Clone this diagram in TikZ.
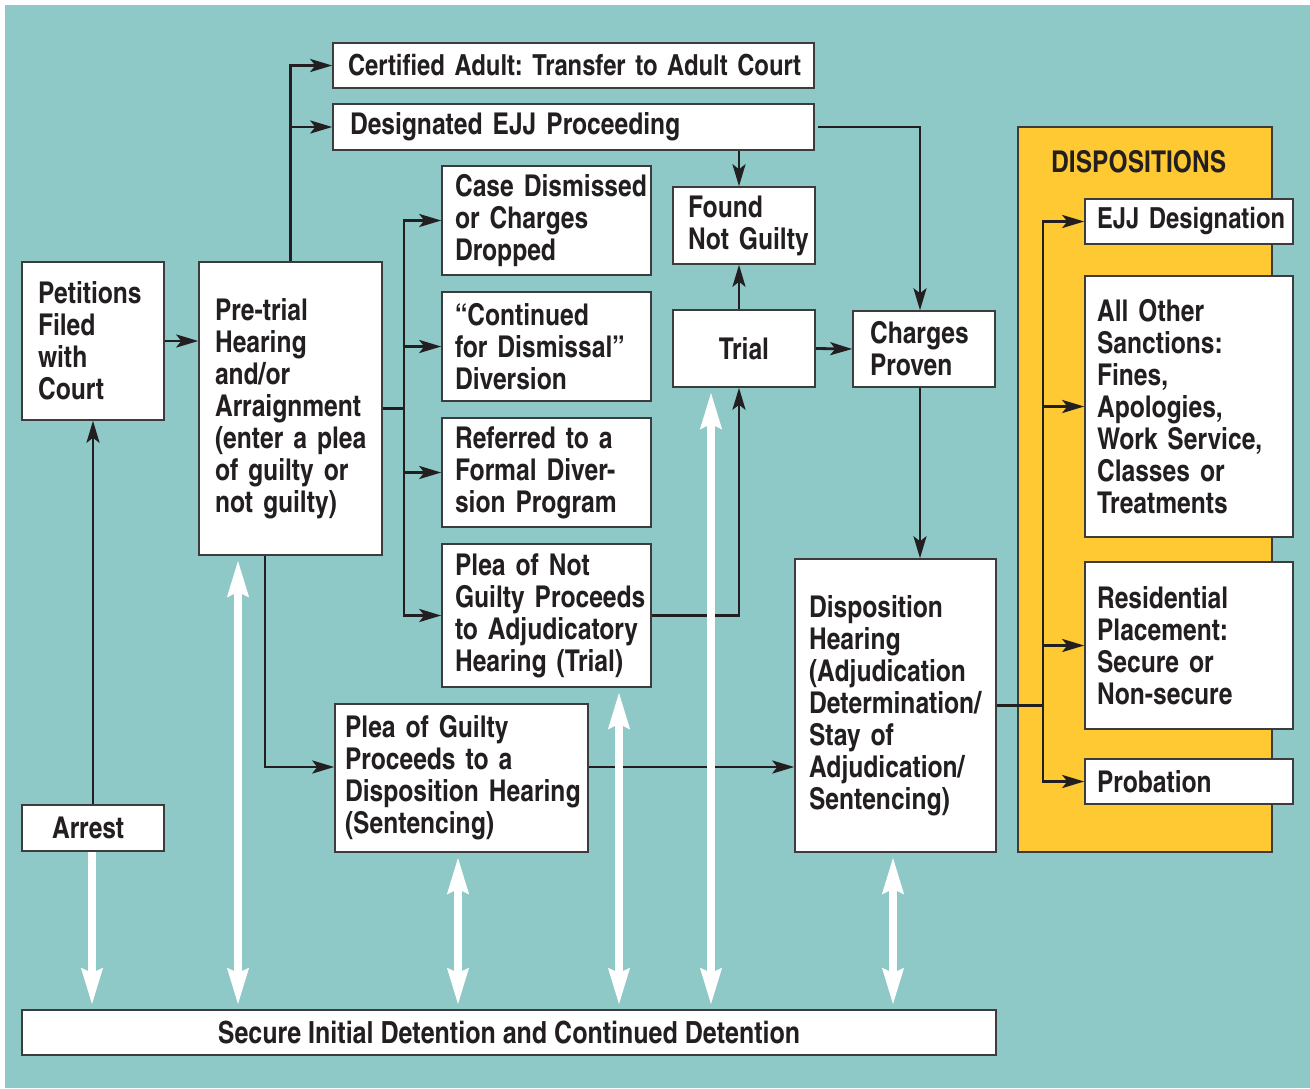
\documentclass[tikz,border=0pt]{standalone}
\usepackage{fontspec}
\usetikzlibrary{arrows.meta,calc}
\newfontfamily\cnbold{texgyreheroscn-bold.otf}
\newcommand\lbl{\fontsize{30}{32}\selectfont\cnbold\hyphenpenalty=10000\exhyphenpenalty=10000}
\definecolor{teal}{RGB}{142,200,199}
\definecolor{gold}{RGB}{255,201,51}
\definecolor{ink}{RGB}{35,31,32}
\definecolor{boxline}{RGB}{60,60,60}
\pgfdeclarelayer{bg}
\pgfsetlayers{bg,main}
\tikzset{
  box/.style={draw=boxline, line width=1.5pt, fill=white, align=left,
    inner ysep=0pt, font=\lbl, text=ink},
  link/.style={line width=2.8pt, draw=ink},
  conn/.style={link, -{Stealth[length=22pt,width=13pt,inset=5pt]}},
  hold/.style={line width=8pt, draw=white, shorten <=4pt, shorten >=4pt},
  both/.style={hold, {Stealth[length=36pt,width=20pt,inset=4pt]}-{Stealth[length=36pt,width=20pt,inset=4pt]}},
  down/.style={hold, shorten <=0pt, -{Stealth[length=36pt,width=20pt,inset=4pt]}},
}
\begin{document}
\begin{tikzpicture}[x=1pt,y=-1pt]
\useasboundingbox (0,0) rectangle (1310,1088);

% boxes of the flow (ties keep each printed line on one line)
\node[box, font=\lbl\fontsize{29}{32}\selectfont, inner xsep=15pt, text width=451pt, minimum height=45pt] (cert) at (573.5,65.5)
  {Certified~Adult:~Transfer~to~Adult~Court};
\node[box, inner xsep=17pt, text width=447pt, minimum height=46pt] (ejj) at (573.5,127)
  {Designated~EJJ~Proceeding};
\node[box, inner xsep=16pt, text width=110pt, minimum height=158pt] (pet) at (93,341)
  {Petitions\\Filed\\with\\Court};
\node[box, inner xsep=16pt, text width=151pt, minimum height=293pt] (pre) at (290.5,408.5)
  {Pre-trial\\Hearing\\and/or\\Arraignment\\(enter~a~plea\\of~guilty~or\\not~guilty)};
\node[box, inner xsep=13pt, text width=183pt, minimum height=109pt] (dism) at (546.5,220.5)
  {Case~Dismissed\\or~Charges\\Dropped};
\node[box, inner xsep=13pt, text width=183pt, minimum height=109pt] (cont) at (546.5,346.5)
  {“Continued\\for~Dismissal”\\Diversion};
\node[box, inner xsep=13pt, text width=183pt, minimum height=109pt] (refer) at (546.5,472.5)
  {Referred~to~a\\Formal~Diver-\\sion~Program};
\node[box, inner xsep=13pt, text width=183pt, minimum height=143pt] (png) at (546.5,615.5)
  {Plea~of~Not\\Guilty~Proceeds\\to~Adjudicatory\\Hearing~(Trial)};
\node[box, inner xsep=10pt, text width=233pt, minimum height=148pt] (pg) at (461.5,778)
  {Plea~of~Guilty\\Proceeds~to~a\\Disposition~Hearing\\(Sentencing)};
\node[box, inner xsep=15pt, text width=112pt, minimum height=77pt] (fng) at (744,225.5)
  {Found\\Not~Guilty};
\node[box, align=center, inner xsep=0pt, minimum width=142pt, minimum height=77pt] (trial) at (744,348.5)
  {Trial};
\node[box, inner xsep=17pt, text width=108pt, minimum height=76pt] (cp) at (924,349)
  {Charges\\Proven};
\node[box, inner xsep=14pt, text width=173pt, minimum height=293pt] (dh) at (895.5,705.5)
  {Disposition\\Hearing\\(Adjudication\\Determination/\\Stay~of\\Adjudication/\\Sentencing)};
\node[box, inner xsep=30pt, text width=82pt, minimum height=46pt] (arrest) at (93,828)
  {Arrest};
\node[box, font=\lbl\fontsize{30.5}{32}\selectfont, align=center, inner xsep=0pt, minimum width=974pt, minimum height=45pt] (det) at (509,1032.5)
  {Secure~Initial~Detention~and~Continued~Detention};

% disposition outcomes
\node[box, font=\lbl\fontsize{29}{32}\selectfont, inner xsep=12pt, text width=184pt, minimum height=45pt] (ejjd) at (1189,221.5)
  {EJJ~Designation};
\node[box, inner xsep=12pt, text width=184pt, minimum height=261pt] (sanc) at (1189,406.5)
  {All~Other\\Sanctions:\\Fines,\\Apologies,\\Work~Service,\\Classes~or\\Treatments};
\node[box, inner xsep=12pt, text width=184pt, minimum height=167pt] (res) at (1189,645.5)
  {Residential\\Placement:\\Secure~or\\Non-secure};
\node[box, inner xsep=12pt, text width=184pt, minimum height=45pt] (prob) at (1189,781.5)
  {Probation};

\begin{pgfonlayer}{bg}
  \fill[teal] (5,5) rectangle (1310,1088);
  \draw[fill=gold, draw=boxline, line width=1.5pt] (1018,127) rectangle (1272,852);
  \node[font=\lbl, text=ink, anchor=west, inner sep=0pt] (title) at (1051,162) {DISPOSITIONS};

  \coordinate (split) at (404,408.5);
  \coordinate (split2) at (1043,705.5);

  \draw[conn] (arrest.north) -- (pet.south);
  \draw[conn] (pet.east) -- (pet.east -| pre.west);
  \draw[conn] (pre.north) |- (cert.west);
  \draw[conn] (pre.north |- ejj.west) -- (ejj.west);
  \draw[link] (pre.east) -- (split);
  \draw[conn] (split) |- (dism.west);
  \draw[conn] (split) |- (cont.west);
  \draw[conn] (split) |- (refer.west);
  \draw[conn] (split) |- (png.west);
  \draw[conn] ([xshift=-25.5pt]pre.south) |- ([yshift=11pt]pg.west);
  \draw[conn] ([yshift=11pt]pg.east) -- ([yshift=11pt]pg.east -| dh.west);
  \draw[conn] (png.east) -| ([xshift=-5pt]trial.south);
  \draw[conn] ([xshift=-5pt]trial.north) -- ([xshift=-5pt]fng.south);
  \draw[conn] ([xshift=-5pt]fng.north |- ejj.south) -- ([xshift=-5pt]fng.north);
  \draw[conn] ([xshift=3pt]ejj.east) -| ([xshift=-4pt]cp.north);
  \draw[conn] (trial.east) -- (cp.west);
  \draw[conn] ([xshift=-4pt]cp.south) -- ([xshift=-4pt]cp.south |- dh.north);
  \draw[link] (dh.east) -- (split2);
  \draw[conn] (split2) |- (ejjd.west);
  \draw[conn] (split2) |- (sanc.west);
  \draw[conn] (split2) |- (res.west);
  \draw[conn] (split2) |- (prob.west);
\end{pgfonlayer}

% detention arrows
\draw[down] ([xshift=-1pt]arrest.south) -- ([xshift=-1pt]arrest.south |- det.north);
\draw[both] ([xshift=-52.5pt]pre.south) -- ([xshift=-52.5pt]pre.south |- det.north);
\draw[both] ([xshift=-3.5pt]pg.south) -- ([xshift=-3.5pt]pg.south |- det.north);
\draw[both] ([xshift=72.5pt]png.south) -- ([xshift=72.5pt]png.south |- det.north);
\draw[both] ([xshift=-33pt]trial.south) -- ([xshift=-33pt]trial.south |- det.north);
\draw[both] ([xshift=-2.5pt]dh.south) -- ([xshift=-2.5pt]dh.south |- det.north);
\end{tikzpicture}
\end{document}
